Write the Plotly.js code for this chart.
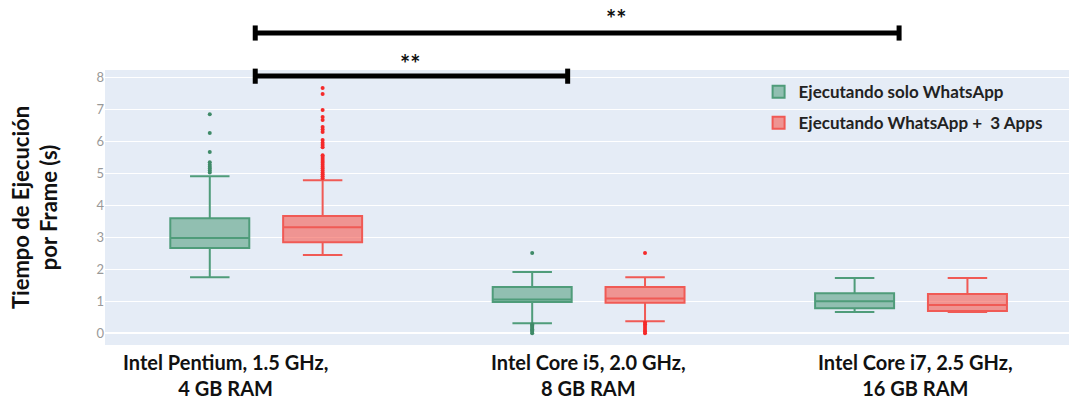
<!DOCTYPE html>
<html>
<head>
<meta charset="utf-8">
<script src="https://cdn.plot.ly/plotly-3.0.1.min.js"></script>
<style>html,body{margin:0;padding:0;background:#fff;}#chart{width:1069px;height:405px;}</style>
</head>
<body>
<div id="chart"></div>
<script>
// Categories (x tick labels)
var categories = ["Intel Pentium, 1.5 GHz,<br>4 GB RAM", "Intel Core i5, 2.0 GHz,<br>8 GB RAM", "Intel Core i7, 2.5 GHz,<br>16 GB RAM"];
var seriesNames = ["Ejecutando solo WhatsApp", "Ejecutando WhatsApp +  3 Apps"];

// Series 1: Ejecutando solo WhatsApp
var soloQ1 = [2.66, 0.97, 0.78];
var soloMedian = [2.97, 1.05, 1.00];
var soloQ3 = [3.59, 1.44, 1.25];
var soloLower = [1.75, 0.31, 0.66];
var soloUpper = [4.90, 1.91, 1.72];
var soloOutliers = [
  [6.84, 6.25, 5.66, 5.34, 5.26, 5.20, 5.14, 5.08, 5.02],
  [2.50, 0.28, 0.24, 0.20, 0.16, 0.12, 0.08, 0.04, 0.00],
  []
];

// Series 2: Ejecutando WhatsApp + 3 Apps
var appsQ1 = [2.84, 0.95, 0.69];
var appsMedian = [3.31, 1.08, 0.88];
var appsQ3 = [3.66, 1.44, 1.22];
var appsLower = [2.44, 0.37, 0.66];
var appsUpper = [4.78, 1.75, 1.72];
var appsOutliers = [
  [7.66, 7.47, 6.97, 6.75, 6.66, 6.44, 6.36, 6.28, 6.03, 5.95, 5.88, 5.81, 5.56, 5.50, 5.44, 5.38, 5.32, 5.26, 5.20, 5.14, 5.08, 5.02, 4.96, 4.90, 4.84],
  [2.50, 0.33, 0.28, 0.22, 0.16, 0.10, 0.05, 0.00],
  []
];

// Category label nudges (in category units) as in the original figure
var labelShift = [-0.125, 0, 0.015];

var FONT = "Lato, 'Open Sans', sans-serif";

var traces = [
  {
    type: "box", name: seriesNames[0], x: categories,
    q1: soloQ1, median: soloMedian, q3: soloQ3, lowerfence: soloLower, upperfence: soloUpper,
    y: soloOutliers, boxpoints: "outliers",
    line: {color: "#4f9c7a", width: 2},
    fillcolor: "rgba(76,154,120,0.55)",
    marker: {color: "#3f8a68", size: 4},
    legendgroup: "a"
  },
  {
    type: "box", name: seriesNames[1], x: categories,
    q1: appsQ1, median: appsMedian, q3: appsQ3, lowerfence: appsLower, upperfence: appsUpper,
    y: appsOutliers, boxpoints: "outliers",
    line: {color: "#f05a55", width: 2},
    fillcolor: "rgba(245,90,80,0.6)",
    marker: {color: "#f52a2a", size: 4},
    legendgroup: "b"
  }
];

var annotations = [
  {text: "**", xref: "x", yref: "paper", x: 0.447, y: 1.085, showarrow: false, font: {family: FONT, size: 24, color: "#111", weight: "bold"}},
  {text: "**", xref: "x", yref: "paper", x: 1.084, y: 1.248, showarrow: false, font: {family: FONT, size: 24, color: "#111", weight: "bold"}}
];
categories.forEach(function (c, i) {
  annotations.push({
    text: c, xref: "x", yref: "paper", x: i + labelShift[i], y: -0.11, yanchor: "middle",
    showarrow: false, align: "center",
    font: {family: FONT, size: 20, color: "#111", weight: "bold"}
  });
});

var layout = {
  width: 1069, height: 405,
  margin: {l: 105, r: 0, t: 70, b: 60},
  paper_bgcolor: "#ffffff",
  plot_bgcolor: "#e5ecf6",
  boxmode: "group",
  showlegend: true,
  legend: {
    x: 0.678, y: 0.985, xanchor: "left", yanchor: "top",
    bgcolor: "rgba(0,0,0,0)",
    traceorder: "grouped", tracegroupgap: 6,
    font: {family: FONT, size: 17, color: "#222", weight: "bold"}
  },
  xaxis: {
    type: "category",
    range: [-0.5, 2.49],
    showgrid: false,
    showticklabels: false,
    ticks: ""
  },
  yaxis: {
    range: [-0.37, 8.22],
    dtick: 1, tick0: 0,
    gridcolor: "#ffffff", gridwidth: 1,
    zeroline: true, zerolinecolor: "#ffffff", zerolinewidth: 2,
    tickfont: {family: FONT, size: 13, color: "#999"},
    title: {text: "Tiempo de Ejecución<br>por Frame (s)", font: {family: FONT, size: 22, color: "#111", weight: "bold"}, standoff: 32}
  },
  shapes: [
    {type: "line", xref: "x", yref: "paper", x0: -0.034, x1: 0.935, y0: 0.978, y1: 0.978, line: {color: "#000", width: 5}},
    {type: "line", xref: "x", yref: "paper", x0: -0.034, x1: -0.034, y0: 0.95, y1: 1.005, line: {color: "#000", width: 5}},
    {type: "line", xref: "x", yref: "paper", x0: 0.935, x1: 0.935, y0: 0.95, y1: 1.005, line: {color: "#000", width: 5}},
    {type: "line", xref: "x", yref: "paper", x0: -0.034, x1: 1.963, y0: 1.135, y1: 1.135, line: {color: "#000", width: 5}},
    {type: "line", xref: "x", yref: "paper", x0: -0.034, x1: -0.034, y0: 1.107, y1: 1.162, line: {color: "#000", width: 5}},
    {type: "line", xref: "x", yref: "paper", x0: 1.963, x1: 1.963, y0: 1.107, y1: 1.162, line: {color: "#000", width: 5}}
  ],
  annotations: annotations
};

Plotly.newPlot("chart", traces, layout, {displayModeBar: false, staticPlot: true});
</script>
</body>
</html>
